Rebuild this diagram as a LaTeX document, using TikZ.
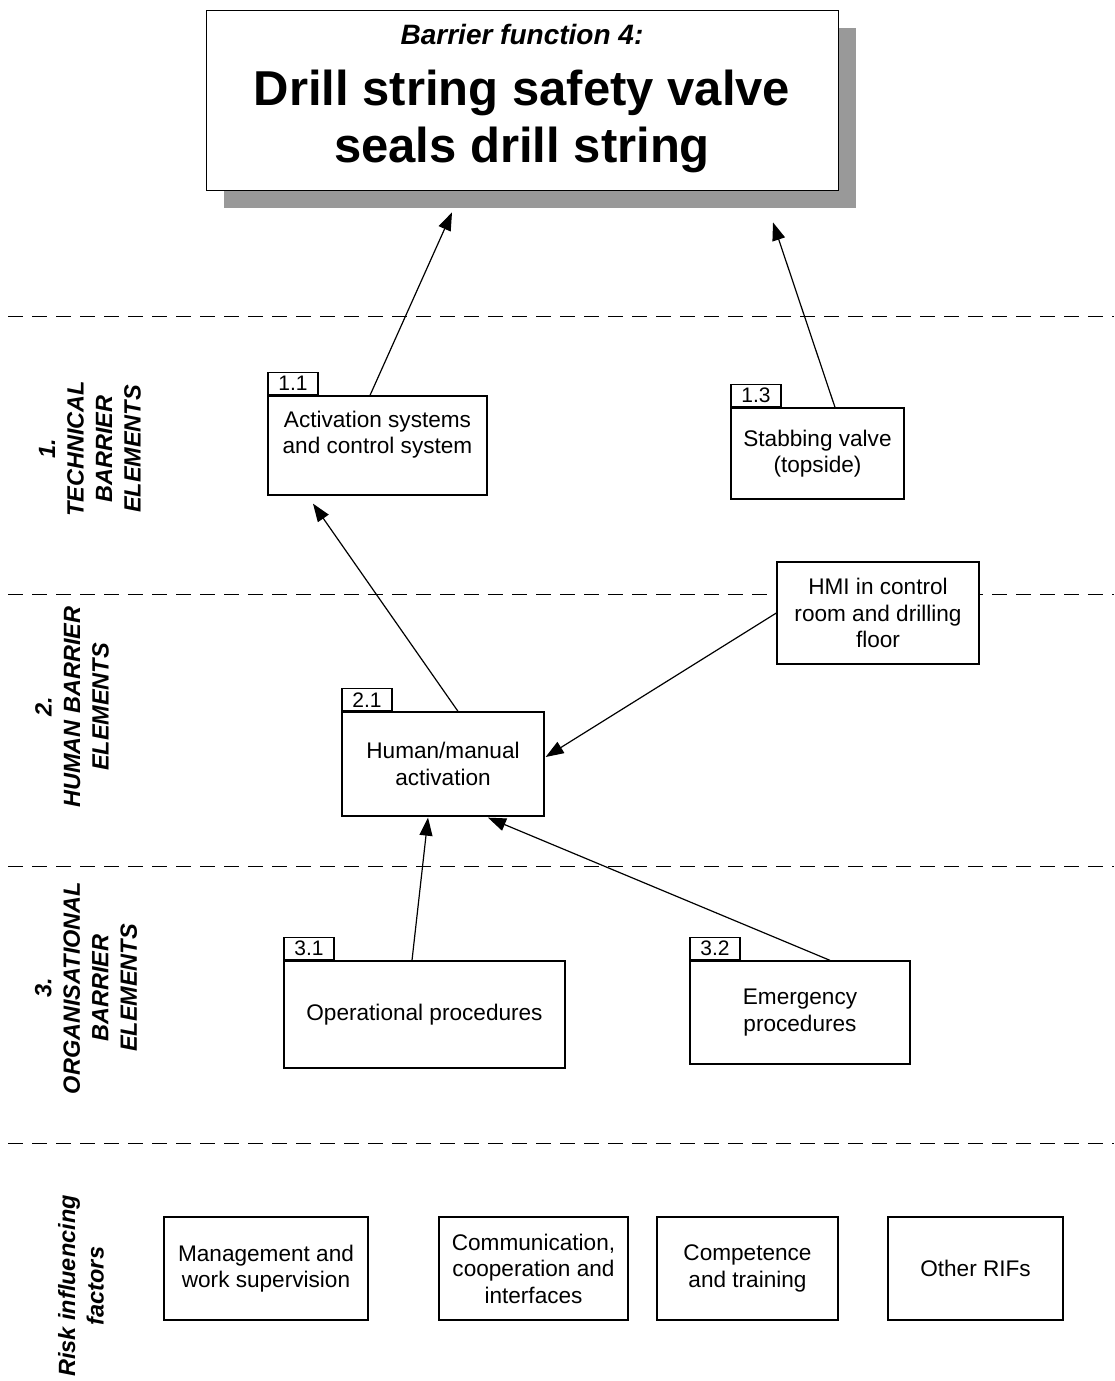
\documentclass[tikz,border=0pt]{standalone}
\usepackage{fontspec}
\setmainfont{Liberation Sans}
\usetikzlibrary{arrows.meta,shadows}
\definecolor{shadowgray}{gray}{0.6}

\begin{document}
\begin{tikzpicture}[x=1pt,y=-1pt,
  every node/.style={font=\fontsize{22.6}{26.5}\selectfont},
  box/.style={draw, line width=1.3pt, fill=white, align=center, inner sep=0pt},
  tag/.style={draw, line width=1.3pt, fill=white, minimum width=50pt,
    minimum height=22pt, inner sep=0pt, anchor=south west,
    font=\fontsize{21}{22}\selectfont},
  layer/.style={rotate=90, align=center,
    font=\fontsize{23.5}{28.5}\selectfont\bfseries\itshape},
  sep/.style={dash pattern=on 15pt off 9pt, line width=1pt},
  link/.style={line width=1.2pt, -{Triangle[length=18pt,width=13pt]}},
]
\useasboundingbox[fill=white] (0,0) rectangle (1114,1381);

% layer separators
\draw[sep] (8,316) -- (1114,316);
\draw[sep] (8,594) -- (1114,594);
\draw[sep] (8,866) -- (1114,866);
\draw[sep] (8,1143) -- (1114,1143);

% barrier function title
\node[draw, line width=0.8pt, fill=white, minimum width=632pt, minimum height=180pt,
  general shadow={fill=shadowgray, shadow xshift=18pt, shadow yshift=-18pt}]
  (title) at (522,100) {};
\node[anchor=base, font=\fontsize{28}{32}\selectfont\bfseries\itshape]
  (tfun) at (522,45) {Barrier function 4:};
\node[anchor=base, font=\fontsize{49}{57}\selectfont\bfseries]
  (tline1) at (522,105) {Drill string safety valve};
\node[anchor=base, font=\fontsize{49}{57}\selectfont\bfseries]
  (tline2) at (522,162) {seals drill string};

% layer labels
\node[layer] (lab1) at (90,449) {1.\\TECHNICAL\\BARRIER\\ELEMENTS};
\node[layer] (lab2) at (72,707) {2.\\HUMAN BARRIER\\ELEMENTS};
\node[layer] (lab3) at (86,988) {3.\\ORGANISATIONAL\\BARRIER\\ELEMENTS};
\node[layer] (lab4) at (81,1286) {Risk influencing\\factors};

% technical barrier elements
\node[box, minimum width=219pt, minimum height=99pt] (a11) at (377.5,445.5)
  {Activation systems\\and control system\\\mbox{}};
\node[tag] (t11) at (a11.north west) {1.1};
\node[box, minimum width=173pt, minimum height=91pt] (a13) at (817.5,453.5)
  {Stabbing valve\\(topside)};
\node[tag] (t13) at (a13.north west) {1.3};

% human barrier elements
\node[box, minimum width=202pt, minimum height=102pt] (hmi) at (878,613)
  {HMI in control\\room and drilling\\floor};
\node[box, minimum width=202pt, minimum height=104pt] (a21) at (443,764)
  {Human/manual\\activation};
\node[tag] (t21) at (a21.north west) {2.1};

% organisational barrier elements
\node[box, minimum width=281pt, minimum height=107pt] (a31) at (424.5,1014.5)
  {Operational procedures};
\node[tag] (t31) at (a31.north west) {3.1};
\node[box, minimum width=220pt, minimum height=103pt] (a32) at (800,1012.5)
  {Emergency\\procedures};
\node[tag] (t32) at (a32.north west) {3.2};

% risk influencing factors
\node[box, minimum width=204pt, minimum height=103pt] (r1) at (266,1268.5)
  {Management and\\work supervision};
\node[box, minimum width=189pt, minimum height=103pt] (r2) at (533.5,1268.5)
  {Communication,\\cooperation and\\interfaces};
\node[box, minimum width=181pt, minimum height=103pt] (r3) at (747.5,1268.5)
  {Competence\\and training};
\node[box, minimum width=175pt, minimum height=103pt] (r4) at (975.5,1268.5)
  {Other RIFs};

% influence arrows
\draw[link] ([xshift=-7.5pt]a11.north) -- ([xshift=-70pt,yshift=-22pt]title.south);
\draw[link] ([xshift=17.5pt]a13.north) -- ([xshift=251pt,yshift=-32pt]title.south);
\draw[link] ([xshift=15pt]a21.north) -- ([xshift=-64.5pt,yshift=-8pt]a11.south);
\draw[link] (hmi.west) -- ([xshift=1pt,yshift=7pt]a21.east);
\draw[link] ([xshift=-12.5pt]a31.north) -- ([xshift=-15pt,yshift=-1pt]a21.south);
\draw[link] ([xshift=30pt]a32.north) -- ([xshift=45pt,yshift=-1pt]a21.south);
\end{tikzpicture}
\end{document}
